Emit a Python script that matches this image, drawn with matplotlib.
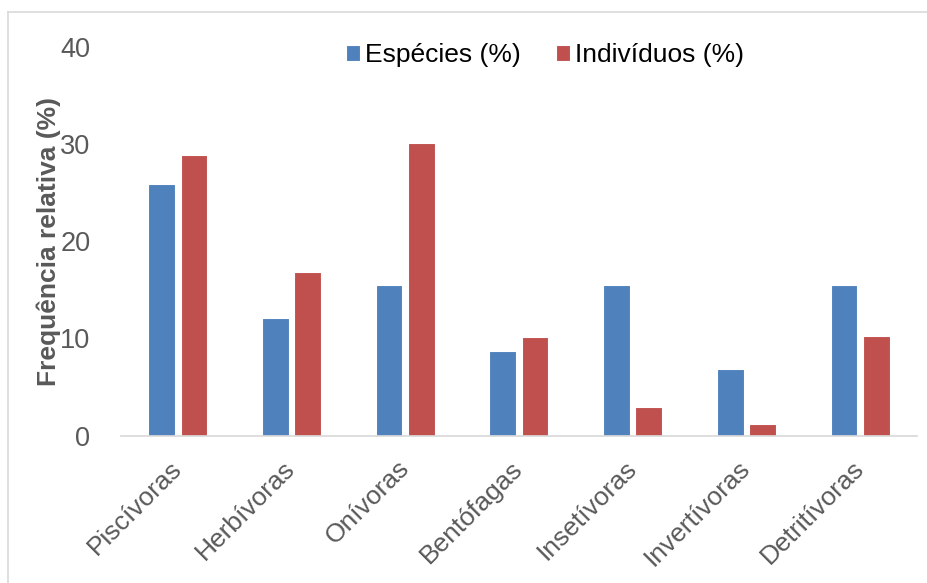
import numpy as np
import matplotlib
matplotlib.use('Agg')
import matplotlib.pyplot as plt
from matplotlib.lines import Line2D

plt.rcParams['font.family'] = ['Liberation Sans', 'DejaVu Sans']

categorias = ['Piscívoras', 'Herbívoras', 'Onívoras', 'Bentófagas',
              'Insetívoras', 'Invertívoras', 'Detritívoras']
especies = [25.9, 12.1, 15.5, 8.7, 15.5, 6.9, 15.5]
individuos = [28.9, 16.8, 30.1, 10.1, 2.9, 1.2, 10.2]

azul = '#4F81BD'
vermelho = '#C0504D'
cinza = '#595959'

fig = plt.figure(figsize=(9.28, 5.83), dpi=100)
ax = fig.add_axes([0.1304, 0.253, 0.8576, 0.666])

x = np.arange(len(categorias))
w = 0.235
ax.bar(x - 0.142, especies, w, color=azul, edgecolor='white', linewidth=0.8,
       label='Espécies (%)')
ax.bar(x + 0.142, individuos, w, color=vermelho, edgecolor='white', linewidth=0.8,
       label='Indivíduos (%)')

ax.set_xlim(-0.5, len(categorias) - 0.5)
ax.set_ylim(0, 40)
ax.set_yticks([0, 10, 20, 30, 40])
ax.set_xticks(x)
ax.set_xticklabels(categorias)

for s in ['top', 'right', 'left']:
    ax.spines[s].set_visible(False)
ax.spines['bottom'].set_color('#D9D9D9')
ax.spines['bottom'].set_linewidth(1.25)

ax.tick_params(axis='y', length=0, pad=22, labelsize=19.5, labelcolor=cinza)
ax.tick_params(axis='x', length=0, pad=21, labelsize=19, labelcolor=cinza)
plt.setp(ax.get_xticklabels(), rotation=45, ha='right', va='center',
         rotation_mode='anchor')

ax.set_ylabel('Frequência relativa (%)', fontsize=19, fontweight='bold',
              color=cinza, va='center')
ax.yaxis.set_label_coords(-0.091, 0.5)

ax.legend(loc='center', bbox_to_anchor=(545 / 928, 1 - 55 / 583),
          bbox_transform=fig.transFigure, ncol=2, frameon=False,
          fontsize=19, handlelength=0.55, handleheight=0.55,
          handletextpad=0.2, columnspacing=1.3, borderpad=0)

# moldura clara do grafico
fig.add_artist(Line2D([8 / 928, 8 / 928], [0, 1 - 12 / 583],
                      transform=fig.transFigure, color='#D9D9D9', lw=1.2))
fig.add_artist(Line2D([8 / 928, 1], [1 - 12 / 583, 1 - 12 / 583],
                      transform=fig.transFigure, color='#D9D9D9', lw=1.2))

fig.savefig('out.png', dpi=100)
